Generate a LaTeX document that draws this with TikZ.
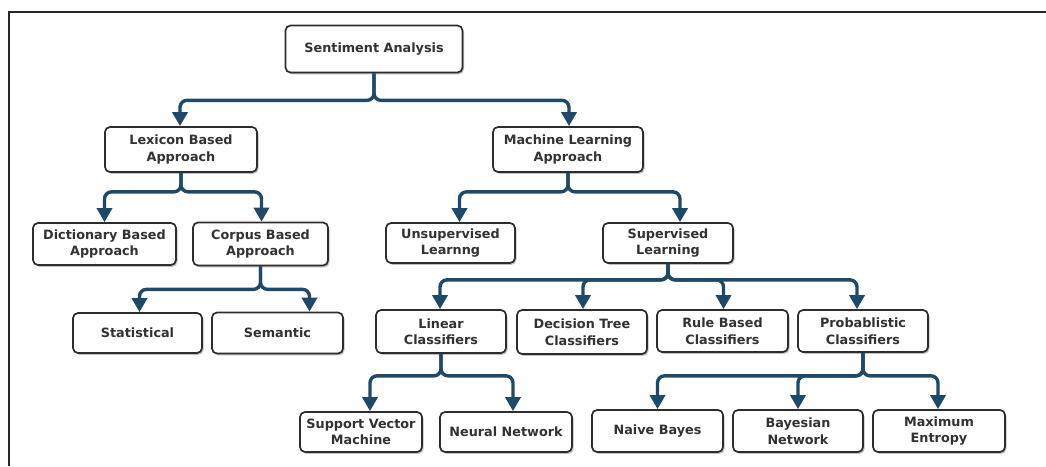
\documentclass[tikz,border=0pt]{standalone}
\usepackage{fontspec}
\setmainfont{DejaVu Sans}
\usetikzlibrary{arrows.meta,shadows}
\definecolor{linkblue}{RGB}{31,73,105}
\definecolor{boxedge}{RGB}{45,45,45}
\definecolor{boxtext}{RGB}{50,50,50}
\begin{document}
\begin{tikzpicture}[x=1pt,y=1pt,
  box/.style={draw=boxedge, line width=1.7pt, fill=white, rounded corners=5pt,
    align=center, inner sep=0pt, text=boxtext,
    font=\bfseries\fontsize{12.8}{16.5}\selectfont,
    drop shadow={shadow xshift=1.5pt, shadow yshift=-1.8pt, opacity=0.25, fill=black}},
  conn/.style={draw=linkblue, line width=3.4pt, rounded corners=7pt,
    -{Triangle[width=15pt,length=14pt]}},
]
\useasboundingbox (0,0) rectangle (1046,-466);
% open frame (top and left edges)
\draw[line width=2pt, color=black!85] (9,-466) -- (9,-12) -- (1046,-12);

% nodes
\node[box, minimum width=177pt, minimum height=47pt] (sa)  at (374,-49)   {Sentiment Analysis};
\node[box, minimum width=152pt, minimum height=45pt] (lba) at (181,-149.5) {Lexicon Based\\Approach};
\node[box, minimum width=150pt, minimum height=45pt] (mla) at (568,-149.5) {Machine Learning\\Approach};
\node[box, minimum width=143pt, minimum height=42pt] (dba) at (104.5,-244) {Dictionary Based\\Approach};
\node[box, minimum width=135pt, minimum height=43pt] (cba) at (260.5,-244) {Corpus Based\\Approach};
\node[box, minimum width=129pt, minimum height=40pt] (ul)  at (450.5,-243) {Unsupervised\\Learnng};
\node[box, minimum width=130pt, minimum height=40pt] (sl)  at (668,-243)   {Supervised\\Learning};
\node[box, minimum width=129pt, minimum height=40pt] (st)  at (137.5,-333) {Statistical};
\node[box, minimum width=131pt, minimum height=41pt] (se)  at (277.5,-333) {Semantic};
\node[box, minimum width=130pt, minimum height=43pt] (lc)  at (441,-331.5) {Linear\\Classifiers};
\node[box, minimum width=130pt, minimum height=44pt] (dt)  at (582,-332)   {Decision Tree\\Classifiers};
\node[box, minimum width=131pt, minimum height=42pt] (rb)  at (722.5,-331) {Rule Based\\Classifiers};
\node[box, minimum width=130pt, minimum height=42pt] (pc)  at (863,-331)   {Probablistic\\Classifiers};
\node[box, minimum width=122pt, minimum height=40pt] (svm) at (361,-432)   {Support Vector\\Machine};
\node[box, minimum width=132pt, minimum height=40pt] (nn)  at (506,-432)   {Neural Network};
\node[box, minimum width=131pt, minimum height=42pt] (nb)  at (657.5,-431) {Naive Bayes};
\node[box, minimum width=130pt, minimum height=42pt] (bn)  at (798,-431)   {Bayesian\\Network};
\node[box, minimum width=132pt, minimum height=42pt] (me)  at (939,-431)   {Maximum\\Entropy};

% connectors
\draw[conn] (sa.south) -- ++(0,-27) -| ([xshift=-1pt]lba.north);
\draw[conn] (sa.south) -- ++(0,-27) -| ([xshift=1pt]mla.north);
\draw[conn] (lba.south) -- ++(0,-19) -| ([xshift=0pt]dba.north);
\draw[conn] (lba.south) -- ++(0,-19) -| ([xshift=1pt]cba.north);
\draw[conn] (mla.south) -- ++(0,-19) -| ([xshift=9pt]ul.north);
\draw[conn] (mla.south) -- ++(0,-19) -| ([xshift=12pt]sl.north);
\draw[conn] (cba.south) -- ++(0,-23) -| ([xshift=2pt]st.north);
\draw[conn] (cba.south) -- ++(0,-23) -| ([xshift=32pt]se.north);
\draw[conn] (sl.south) -- ++(0,-16) -| ([xshift=-1pt]lc.north);
\draw[conn] (sl.south) -- ++(0,-16) -| ([xshift=1pt]dt.north);
\draw[conn] (sl.south) -- ++(0,-16) -| ([xshift=1pt]rb.north);
\draw[conn] (sl.south) -- ++(0,-16) -| ([xshift=-6pt]pc.north);
\draw[conn] (lc.south) -- ++(0,-22) -| ([xshift=9pt]svm.north);
\draw[conn] (lc.south) -- ++(0,-22) -| ([xshift=7pt]nn.north);
\draw[conn] (pc.south) -- ++(0,-23) -| ([xshift=0pt]nb.north);
\draw[conn] (pc.south) -- ++(0,-23) -| ([xshift=0pt]bn.north);
\draw[conn] (pc.south) -- ++(0,-23) -| ([xshift=-1pt]me.north);
\end{tikzpicture}
\end{document}
